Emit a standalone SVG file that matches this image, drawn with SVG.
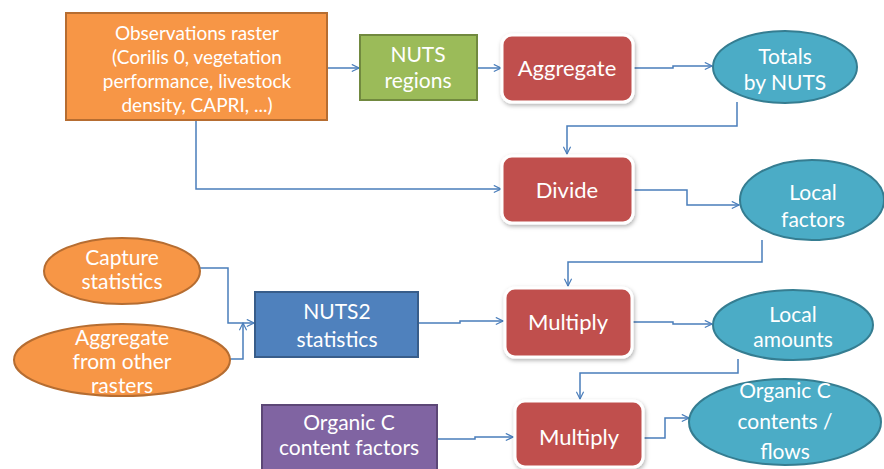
<svg xmlns="http://www.w3.org/2000/svg" width="884" height="469" viewBox="0 0 884 469">
<defs>
<marker id="arr" viewBox="0 0 10 10" refX="9" refY="5" markerWidth="9" markerHeight="9" markerUnits="userSpaceOnUse" orient="auto">
<path d="M1,1 L9,5 L1,9" fill="none" stroke="#4A7EBB" stroke-width="1.3"/>
</marker>
<filter id="sh" x="-10%" y="-10%" width="130%" height="140%">
<feDropShadow dx="1" dy="2" stdDeviation="2" flood-color="#000" flood-opacity="0.3"/>
</filter>
<style>
.t{font-family:Lato,"Liberation Sans",sans-serif;fill:#fff;text-anchor:middle;font-size:21px}
.s{font-size:19px}
.orange{fill:#F79646;stroke:#B66D31;stroke-width:2}
.green{fill:#9BBB59;stroke:#71893F;stroke-width:2}
.red{fill:#C0504D;stroke:#fff;stroke-width:3;filter:url(#sh)}
.teal{fill:#4BACC6;stroke:#357D91;stroke-width:2}
.blue{fill:#4F81BD;stroke:#385D8A;stroke-width:2}
.purple{fill:#8064A2;stroke:#5C4776;stroke-width:2}
.c{fill:none;stroke:#4A7EBB;stroke-width:1.5;marker-end:url(#arr)}
</style>
</defs>
<rect width="884" height="469" fill="#fff"/>
<g id="connectors">
<path class="c" d="M327,68 L359,68"/>
<path class="c" d="M477,68 L501,68"/>
<path class="c" d="M633,68 L673,68 L673,66 L712,66"/>
<path class="c" d="M737,102 L737,126 L567,126 L567,154"/>
<path class="c" d="M196,120 L196,189 L501,189"/>
<path class="c" d="M633,190 L687,190 L687,205 L739,205"/>
<path class="c" d="M762,240 L762,262 L568,262 L568,286"/>
<path class="c" d="M200,268 L228,268 L228,323 L254,323"/>
<path class="c" d="M230,359 L243,359 L243,323"/>
<path class="c" d="M418,323 L460,323 L460,321 L503,321"/>
<path class="c" d="M633,322 L673,322 L673,324 L712,324"/>
<path class="c" d="M738,359 L738,373 L580,373 L580,399"/>
<path class="c" d="M437,439 L475,439 L475,437 L513,437"/>
<path class="c" d="M644,438 L665,438 L665,418 L689,418"/>
</g>
<g id="obs">
<rect class="orange" x="66" y="13" width="261" height="107"/>
<text class="t s" x="197" y="40">Observations raster</text>
<text class="t s" x="197" y="64">(Corilis 0, vegetation</text>
<text class="t s" x="197" y="88">performance, livestock</text>
<text class="t s" x="197" y="112">density, CAPRI, ...)</text>
</g>
<g id="nuts">
<rect class="green" x="360" y="35" width="117" height="65"/>
<text class="t" x="418" y="62">NUTS</text>
<text class="t" x="418" y="88">regions</text>
</g>
<g id="aggregate">
<rect class="red" x="502" y="35" width="131" height="67" rx="10"/>
<text class="t" x="567" y="76" style="font-size:22px">Aggregate</text>
</g>
<g id="totals">
<ellipse class="teal" cx="785" cy="67" rx="72" ry="36"/>
<text class="t" x="785" y="64">Totals</text>
<text class="t" x="785" y="90">by NUTS</text>
</g>
<g id="divide">
<rect class="red" x="502" y="156" width="131" height="67" rx="10"/>
<text class="t" x="567" y="198" style="font-size:22px">Divide</text>
</g>
<g id="localfactors">
<ellipse class="teal" cx="812" cy="200" rx="72" ry="40"/>
<text class="t" x="813" y="200">Local</text>
<text class="t" x="813" y="227">factors</text>
</g>
<g id="capture">
<ellipse class="orange" cx="122" cy="271" rx="78" ry="33"/>
<text class="t" x="122" y="265">Capture</text>
<text class="t" x="122" y="289">statistics</text>
</g>
<g id="aggother">
<ellipse class="orange" cx="122" cy="360" rx="108" ry="36"/>
<text class="t" x="122" y="345">Aggregate</text>
<text class="t" x="122" y="369">from other</text>
<text class="t" x="122" y="393">rasters</text>
</g>
<g id="nuts2">
<rect class="blue" x="255" y="292" width="163" height="65"/>
<text class="t" x="337" y="319">NUTS2</text>
<text class="t" x="337" y="347">statistics</text>
</g>
<g id="multiply1">
<rect class="red" x="505" y="288" width="127" height="69" rx="10"/>
<text class="t" x="568" y="330" style="font-size:22px">Multiply</text>
</g>
<g id="localamounts">
<ellipse class="teal" cx="793" cy="325" rx="80" ry="35"/>
<text class="t" x="793" y="322">Local</text>
<text class="t" x="793" y="347">amounts</text>
</g>
<g id="orgfactors">
<rect class="purple" x="262" y="405" width="175" height="66"/>
<text class="t" x="349" y="430">Organic C</text>
<text class="t" x="349" y="455">content factors</text>
</g>
<g id="multiply2">
<rect class="red" x="515" y="401" width="128" height="66" rx="10"/>
<text class="t" x="579" y="445" style="font-size:22px">Multiply</text>
</g>
<g id="orgc">
<ellipse class="teal" cx="785" cy="422" rx="96" ry="43"/>
<text class="t" x="785" y="398">Organic C</text>
<text class="t" x="785" y="429">contents /</text>
<text class="t" x="785" y="459">flows</text>
</g>
</svg>
